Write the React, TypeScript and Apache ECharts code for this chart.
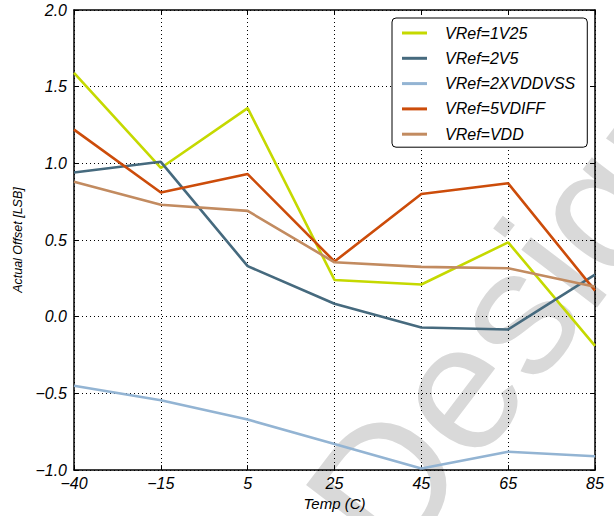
import React, { useEffect, useRef } from "react";
import * as echarts from "echarts";

const temps = ["-40", "-15", "5", "25", "45", "65", "85"];
const vref1V25 = [1.59, 0.97, 1.36, 0.24, 0.21, 0.485, -0.19];
const vref2V5 = [0.94, 1.01, 0.33, 0.085, -0.07, -0.083, 0.275];
const vref2XVDDVSS = [-0.45, -0.545, -0.67, -0.83, -0.99, -0.88, -0.91];
const vref5VDIFF = [1.22, 0.81, 0.93, 0.36, 0.8, 0.87, 0.17];
const vrefVDD = [0.88, 0.73, 0.69, 0.355, 0.325, 0.316, 0.195];

const seriesNames = ["VRef=1V25", "VRef=2V5", "VRef=2XVDDVSS", "VRef=5VDIFF", "VRef=VDD"];
const seriesColors = ["#c5d900", "#466a7e", "#93b4d3", "#cc4c0a", "#c28b60"];
const seriesData = [vref1V25, vref2V5, vref2XVDDVSS, vref5VDIFF, vrefVDD];

const FONT = "Liberation Sans";
const minus = (s: string) => s.replace("-", "\u2212");

export default function App() {
  const ref = useRef<HTMLDivElement>(null);
  useEffect(() => {
    if (!ref.current) return;
    const chart = echarts.init(ref.current, undefined, { renderer: "svg" });
    const gridLine = { show: true, lineStyle: { type: [1, 3], color: "#000", width: 1 } };
    const axisLine = { show: true, onZero: false, lineStyle: { color: "#000", width: 1.5 } };
    chart.setOption({
      animation: false,
      backgroundColor: "#fff",
      textStyle: { fontFamily: FONT },
      grid: { left: 74, right: 19, top: 10, bottom: 45, containLabel: false },
      graphic: [
        {
          type: "text",
          x: 346,
          y: 534,
          rotation: 0.92,
          z: -10,
          silent: true,
          style: {
            text: "Design",
            fontSize: 180,
            fontFamily: FONT,
            fill: "#d9d9d9",
            textAlign: "left",
            textVerticalAlign: "middle",
          },
        },
      ],
      legend: {
        orient: "vertical",
        left: 392,
        top: 18,
        backgroundColor: "#fff",
        borderColor: "#000",
        borderWidth: 1,
        borderRadius: 4,
        padding: [7, 12, 5, 10],
        icon: "rect",
        itemWidth: 25,
        itemHeight: 3,
        itemGap: 9.3,
        z: 10,
        textStyle: {
          fontSize: 16,
          fontStyle: "italic",
          color: "#000",
          lineHeight: 14,
          padding: [0, 0, 0, 13],
          fontFamily: FONT,
        },
        data: seriesNames,
      },
      xAxis: [
        {
          type: "category",
          data: temps,
          boundaryGap: false,
          axisLine,
          axisTick: { show: true, inside: true, length: 5, lineStyle: { color: "#000" } },
          axisLabel: {
            fontSize: 16,
            fontStyle: "italic",
            color: "#000",
            margin: 5,
            formatter: (v: string) => minus(v),
          },
          splitLine: gridLine,
          name: "Temp (C)",
          nameLocation: "middle",
          nameGap: 24,
          nameTextStyle: { fontSize: 15, fontStyle: "italic", color: "#000" },
        },
        {
          type: "category",
          data: temps,
          boundaryGap: false,
          position: "top",
          axisLine,
          axisTick: { show: true, inside: true, length: 5, lineStyle: { color: "#000" } },
          axisLabel: { show: false },
          splitLine: { show: false },
        },
      ],
      yAxis: [
        {
          type: "value",
          min: -1,
          max: 2,
          interval: 0.5,
          axisLine,
          axisTick: { show: true, inside: true, length: 5, lineStyle: { color: "#000" } },
          axisLabel: {
            fontSize: 16,
            fontStyle: "italic",
            color: "#000",
            margin: 7,
            formatter: (v: number) => minus(v.toFixed(1)),
          },
          splitLine: gridLine,
          name: "Actual Offset [LSB]",
          nameLocation: "middle",
          nameGap: 45,
          nameTextStyle: { fontSize: 12.5, fontStyle: "italic", color: "#000" },
        },
        {
          type: "value",
          min: -1,
          max: 2,
          interval: 0.5,
          position: "right",
          axisLine,
          axisTick: { show: true, inside: true, length: 5, lineStyle: { color: "#000" } },
          axisLabel: { show: false },
          splitLine: { show: false },
        },
      ],
      series: seriesNames.map((name, i) => ({
        name,
        type: "line",
        data: seriesData[i],
        symbol: "none",
        color: seriesColors[i],
        lineStyle: { width: 2.6, color: seriesColors[i] },
        z: 3,
      })),
    });
    return () => chart.dispose();
  }, []);
  return (
    <div
      ref={ref}
      style={{ position: "fixed", left: 0, top: 0, width: 614, height: 516 }}
    />
  );
}
